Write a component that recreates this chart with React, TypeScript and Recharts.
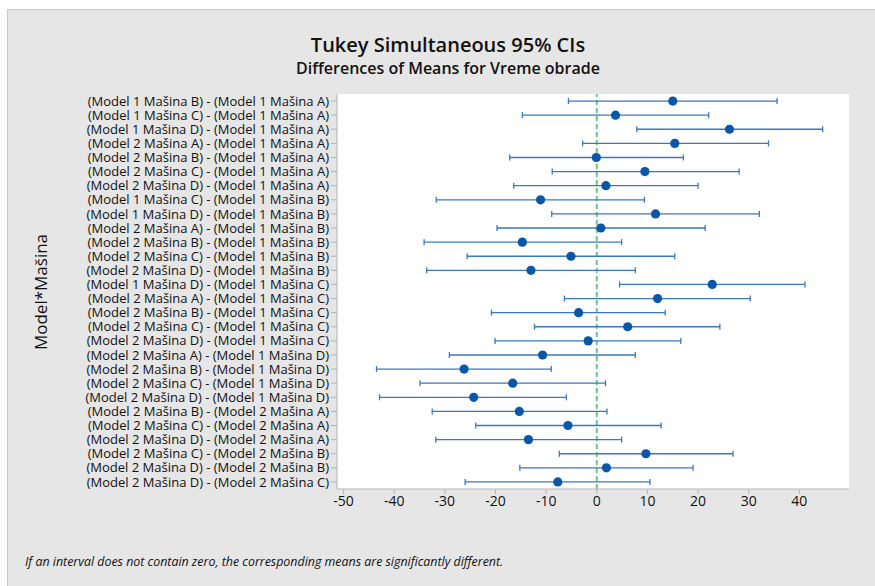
import { ScatterChart, Scatter, XAxis, YAxis, CartesianGrid, ReferenceLine, ErrorBar } from 'recharts'

const labels = [
  '(Model 1 Mašina B) - (Model 1 Mašina A)',
  '(Model 1 Mašina C) - (Model 1 Mašina A)',
  '(Model 1 Mašina D) - (Model 1 Mašina A)',
  '(Model 2 Mašina A) - (Model 1 Mašina A)',
  '(Model 2 Mašina B) - (Model 1 Mašina A)',
  '(Model 2 Mašina C) - (Model 1 Mašina A)',
  '(Model 2 Mašina D) - (Model 1 Mašina A)',
  '(Model 1 Mašina C) - (Model 1 Mašina B)',
  '(Model 1 Mašina D) - (Model 1 Mašina B)',
  '(Model 2 Mašina A) - (Model 1 Mašina B)',
  '(Model 2 Mašina B) - (Model 1 Mašina B)',
  '(Model 2 Mašina C) - (Model 1 Mašina B)',
  '(Model 2 Mašina D) - (Model 1 Mašina B)',
  '(Model 1 Mašina D) - (Model 1 Mašina C)',
  '(Model 2 Mašina A) - (Model 1 Mašina C)',
  '(Model 2 Mašina B) - (Model 1 Mašina C)',
  '(Model 2 Mašina C) - (Model 1 Mašina C)',
  '(Model 2 Mašina D) - (Model 1 Mašina C)',
  '(Model 2 Mašina A) - (Model 1 Mašina D)',
  '(Model 2 Mašina B) - (Model 1 Mašina D)',
  '(Model 2 Mašina C) - (Model 1 Mašina D)',
  '(Model 2 Mašina D) - (Model 1 Mašina D)',
  '(Model 2 Mašina B) - (Model 2 Mašina A)',
  '(Model 2 Mašina C) - (Model 2 Mašina A)',
  '(Model 2 Mašina D) - (Model 2 Mašina A)',
  '(Model 2 Mašina C) - (Model 2 Mašina B)',
  '(Model 2 Mašina D) - (Model 2 Mašina B)',
  '(Model 2 Mašina D) - (Model 2 Mašina C)',
]

const diffs = [
  15.0, 3.7, 26.2, 15.4, -0.1, 9.5, 1.8,
  -11.1, 11.6, 0.8, -14.7, -5.1, -13.0,
  22.8, 12.0, -3.6, 6.1, -1.7,
  -10.7, -26.2, -16.6, -24.3,
  -15.3, -5.7, -13.5,
  9.7, 1.9,
  -7.7,
]

const lower = [
  -5.6, -14.7, 7.9, -2.8, -17.2, -8.8, -16.4,
  -31.7, -8.9, -19.7, -34.1, -25.6, -33.6,
  4.5, -6.4, -20.8, -12.3, -20.1,
  -29.1, -43.5, -34.9, -42.9,
  -32.5, -23.9, -31.8,
  -7.4, -15.2,
  -26.0,
]

const upper = [
  35.6, 22.1, 44.6, 33.9, 17.1, 28.1, 20.0,
  9.4, 32.1, 21.4, 4.9, 15.4, 7.6,
  41.1, 30.3, 13.5, 24.3, 16.6,
  7.6, -9.0, 1.7, -6.0,
  2.0, 12.7, 4.9,
  26.9, 19.0,
  10.5,
]

const xTicks = [-50, -40, -30, -20, -10, 0, 10, 20, 30, 40]

const data = labels.map((label, i) => ({
  row: i,
  label,
  diff: diffs[i],
  err: [diffs[i] - lower[i], upper[i] - diffs[i]],
}))

const rowTicks = labels.map((_, i) => i)

const FONT = '"Open Sans", "Noto Sans", sans-serif'
const TEXT = '#111111'
const AXIS = '#b4b4b4'

function Dot(props: any) {
  const { cx, cy } = props
  if (cx == null || cy == null) return null
  return <circle cx={cx} cy={cy} r={4.6} fill="#0a56a8" />
}

export default function App() {
  return (
    <div style={{ position: 'absolute', left: 0, top: 0, width: 875, height: 586, background: '#fff', overflow: 'hidden' }}>
      <div
        style={{
          position: 'absolute', left: 7, top: 9, right: 0, bottom: 0,
          background: '#e6e6e6', borderLeft: '1px solid #c9c9c9', borderTop: '1px solid #c9c9c9',
        }}
      />
      <div style={{ position: 'absolute', left: 0, top: 0, width: 875, height: 586 }}>
        <ScatterChart width={875} height={586} margin={{ top: 94, right: 26, bottom: 66, left: 0 }}>
          <CartesianGrid horizontal={false} vertical={false} fill="#ffffff" fillOpacity={1} />
          <XAxis
            type="number"
            dataKey="diff"
            domain={[-51.3, 49.8]}
            allowDataOverflow
            ticks={xTicks}
            height={31}
            tick={{ fill: TEXT, fontSize: 14, fontFamily: FONT }}
            tickSize={5}
            tickMargin={2}
            stroke={AXIS}
          />
          <XAxis xAxisId="top" orientation="top" type="number" domain={[-51.3, 49.8]} height={0} tick={false} tickLine={false} stroke="#c4c4c4" />
          <YAxis
            type="number"
            dataKey="row"
            domain={[-0.5, 27.5]}
            reversed
            ticks={rowTicks}
            interval={0}
            width={337}
            tickFormatter={(i: number) => labels[i] ?? ''}
            tick={{ fill: TEXT, fontSize: 13, fontFamily: FONT }}
            tickSize={6}
            tickMargin={2}
            stroke={AXIS}
          />
          <YAxis yAxisId="right" orientation="right" type="number" domain={[0, 1]} width={0} tick={false} tickLine={false} stroke="#c4c4c4" />
          <ReferenceLine x={0} stroke="#78c088" strokeWidth={2} strokeDasharray="5 3" />
          <Scatter data={data} shape={<Dot />} isAnimationActive={false}>
            <ErrorBar dataKey="err" direction="x" width={3} stroke="#3a78c0" strokeWidth={1.3} />
          </Scatter>
        </ScatterChart>
      </div>
      <div
        style={{
          position: 'absolute', left: 0, width: 896, top: 33, textAlign: 'center',
          fontFamily: FONT, fontWeight: 600, fontSize: 20, color: TEXT, lineHeight: '24px',
        }}
      >
        Tukey Simultaneous 95% CIs
      </div>
      <div
        style={{
          position: 'absolute', left: 0, width: 896, top: 58, textAlign: 'center',
          fontFamily: FONT, fontWeight: 600, fontSize: 16, color: TEXT, lineHeight: '20px',
        }}
      >
        Differences of Means for Vreme obrade
      </div>
      <div
        style={{
          position: 'absolute', left: 40, top: 292, width: 0, height: 0,
        }}
      >
        <div
          style={{
            position: 'absolute', left: 0, top: 0, transform: 'translate(-50%, -50%) rotate(-90deg)',
            fontFamily: FONT, fontSize: 17, color: TEXT, whiteSpace: 'nowrap',
          }}
        >
          Model*Mašina
        </div>
      </div>
      <div
        style={{
          position: 'absolute', left: 25, top: 553, fontFamily: FONT, fontStyle: 'italic',
          fontSize: 12.4, color: TEXT, whiteSpace: 'nowrap',
        }}
      >
        If an interval does not contain zero, the corresponding means are significantly different.
      </div>
    </div>
  )
}
